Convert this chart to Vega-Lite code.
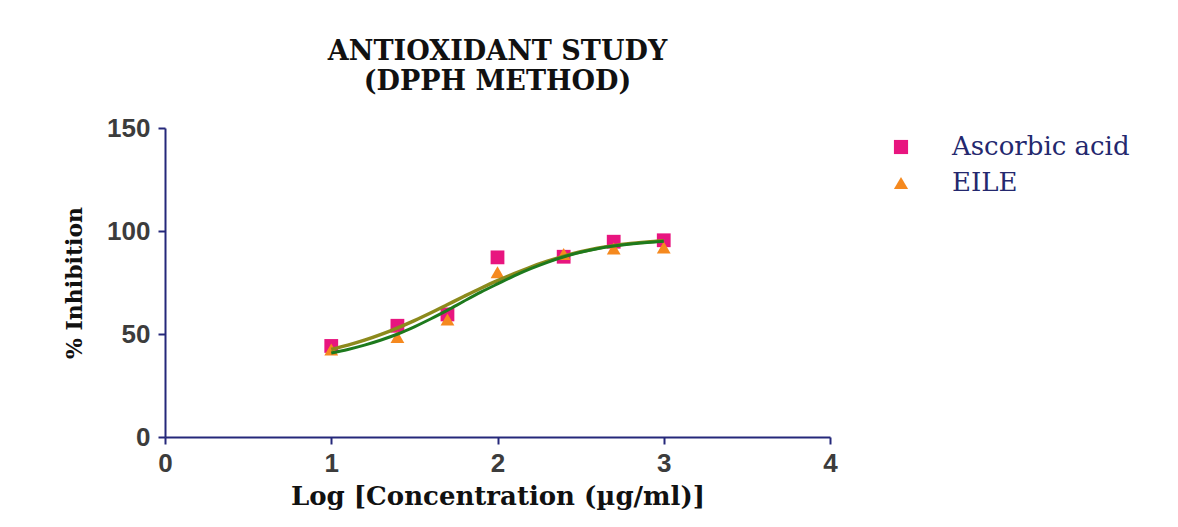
{
  "$schema": "https://vega.github.io/schema/vega-lite/v6.json",
  "width": 665,
  "height": 309,
  "autosize": {"type": "none"},
  "padding": {"left": 165, "top": 128, "right": 348, "bottom": 90},
  "background": "white",
  "title": {
    "text": ["ANTIOXIDANT STUDY", "(DPPH METHOD)"],
    "font": "DejaVu Serif",
    "fontSize": 27,
    "fontWeight": "bold",
    "color": "#111111",
    "anchor": "middle",
    "frame": "group",
    "offset": 19,
    "lineHeight": 30
  },
  "config": {
    "view": {"stroke": null},
    "axis": {
      "domainColor": "#25287a",
      "domainWidth": 2,
      "tickColor": "#25287a",
      "tickWidth": 2,
      "tickSize": 7,
      "grid": false,
      "labelFont": "Liberation Sans",
      "labelFontWeight": "bold",
      "labelFontSize": 26,
      "labelColor": "#3c3c3c",
      "labelFlush": false,
      "titleFont": "DejaVu Serif",
      "titleFontWeight": "bold",
      "titleColor": "#111111"
    }
  },
  "datasets": {
    "points": [
      {"logc": 1.0, "inhibition": 44.2, "sample": "Ascorbic acid"},
      {"logc": 1.398, "inhibition": 54.0, "sample": "Ascorbic acid"},
      {"logc": 1.699, "inhibition": 59.5, "sample": "Ascorbic acid"},
      {"logc": 2.0, "inhibition": 87.2, "sample": "Ascorbic acid"},
      {"logc": 2.398, "inhibition": 87.5, "sample": "Ascorbic acid"},
      {"logc": 2.699, "inhibition": 94.8, "sample": "Ascorbic acid"},
      {"logc": 3.0, "inhibition": 95.5, "sample": "Ascorbic acid"},
      {"logc": 1.0, "inhibition": 42.5, "sample": "EILE"},
      {"logc": 1.398, "inhibition": 48.5, "sample": "EILE"},
      {"logc": 1.699, "inhibition": 57.0, "sample": "EILE"},
      {"logc": 2.0, "inhibition": 80.0, "sample": "EILE"},
      {"logc": 2.398, "inhibition": 88.8, "sample": "EILE"},
      {"logc": 2.699, "inhibition": 91.5, "sample": "EILE"},
      {"logc": 3.0, "inhibition": 92.0, "sample": "EILE"}
    ],
    "fitA": [
      {"logc": 1.0, "inhibition": 42.5}, {"logc": 1.1, "inhibition": 44.6},
      {"logc": 1.2, "inhibition": 47.0}, {"logc": 1.3, "inhibition": 49.8},
      {"logc": 1.4, "inhibition": 53.0}, {"logc": 1.5, "inhibition": 56.5},
      {"logc": 1.6, "inhibition": 60.3}, {"logc": 1.7, "inhibition": 64.3},
      {"logc": 1.8, "inhibition": 68.3}, {"logc": 1.9, "inhibition": 72.2},
      {"logc": 2.0, "inhibition": 75.9}, {"logc": 2.1, "inhibition": 79.3},
      {"logc": 2.2, "inhibition": 82.5}, {"logc": 2.3, "inhibition": 85.3},
      {"logc": 2.4, "inhibition": 87.8}, {"logc": 2.5, "inhibition": 89.9},
      {"logc": 2.6, "inhibition": 91.6}, {"logc": 2.7, "inhibition": 92.9},
      {"logc": 2.8, "inhibition": 93.9}, {"logc": 2.9, "inhibition": 94.7},
      {"logc": 3.0, "inhibition": 95.3}
    ],
    "fitB": [
      {"logc": 1.0, "inhibition": 40.8}, {"logc": 1.1, "inhibition": 42.5},
      {"logc": 1.2, "inhibition": 44.6}, {"logc": 1.3, "inhibition": 47.1},
      {"logc": 1.4, "inhibition": 50.0}, {"logc": 1.5, "inhibition": 53.5},
      {"logc": 1.6, "inhibition": 57.4}, {"logc": 1.7, "inhibition": 61.6},
      {"logc": 1.8, "inhibition": 66.0}, {"logc": 1.9, "inhibition": 70.3},
      {"logc": 2.0, "inhibition": 74.3}, {"logc": 2.1, "inhibition": 78.2},
      {"logc": 2.2, "inhibition": 81.7}, {"logc": 2.3, "inhibition": 84.8},
      {"logc": 2.4, "inhibition": 87.5}, {"logc": 2.5, "inhibition": 89.7},
      {"logc": 2.6, "inhibition": 91.4}, {"logc": 2.7, "inhibition": 92.7},
      {"logc": 2.8, "inhibition": 93.7}, {"logc": 2.9, "inhibition": 94.4},
      {"logc": 3.0, "inhibition": 95.0}
    ]
  },
  "layer": [
    {
      "data": {"name": "points"},
      "mark": {"type": "point", "filled": true, "opacity": 1, "strokeWidth": 0},
      "encoding": {
        "x": {
          "field": "logc", "type": "quantitative",
          "scale": {"domain": [0, 4], "nice": false, "zero": false},
          "axis": {"values": [0, 1, 2, 3, 4], "format": "d", "title": "Log [Concentration (µg/ml)]", "titleFontSize": 26, "titlePadding": 7, "labelPadding": 6}
        },
        "y": {
          "field": "inhibition", "type": "quantitative",
          "scale": {"domain": [0, 150], "nice": false},
          "axis": {"values": [0, 50, 100, 150], "title": "% Inhibition", "titleFontSize": 22, "titlePadding": 20, "labelPadding": 8}
        },
        "color": {
          "field": "sample", "type": "nominal",
          "scale": {"domain": ["Ascorbic acid", "EILE"], "range": ["#e8157f", "#f5891f"]},
          "legend": {
            "title": null,
            "orient": "none",
            "legendX": 723,
            "legendY": 6,
            "labelFont": "DejaVu Serif",
            "labelFontSize": 26,
            "labelLimit": 400,
            "labelColor": "#24286e",
            "labelOffset": 38,
            "rowPadding": 10,
            "symbolSize": 200,
            "symbolStrokeWidth": 0
          }
        },
        "shape": {
          "field": "sample", "type": "nominal",
          "scale": {"domain": ["Ascorbic acid", "EILE"], "range": ["square", "triangle-up"]}
        },
        "size": {"value": 190}
      }
    },
    {
      "data": {"name": "fitA"},
      "mark": {"type": "line", "color": "#8c8a1c", "strokeWidth": 3.5, "interpolate": "monotone"},
      "encoding": {
        "x": {"field": "logc", "type": "quantitative"},
        "y": {"field": "inhibition", "type": "quantitative"}
      }
    },
    {
      "data": {"name": "fitB"},
      "mark": {"type": "line", "color": "#1d7a1d", "strokeWidth": 3, "interpolate": "monotone"},
      "encoding": {
        "x": {"field": "logc", "type": "quantitative"},
        "y": {"field": "inhibition", "type": "quantitative"}
      }
    }
  ]
}
